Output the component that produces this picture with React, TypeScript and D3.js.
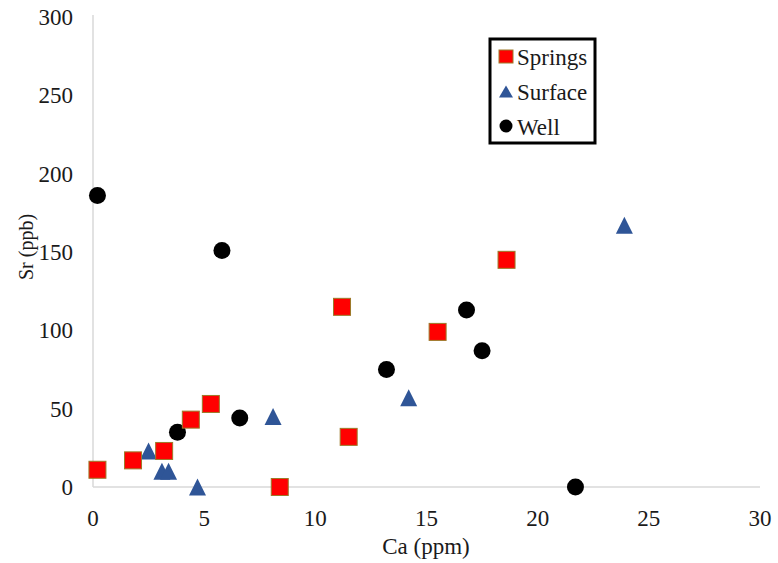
import React from "react";
import * as d3 from "d3";

const springsCa = [0.2, 1.8, 3.2, 4.4, 5.3, 8.4, 11.2, 11.5, 15.5, 18.6];
const springsSr = [11, 17, 23, 43, 53, 0, 115, 32, 99, 145];
const surfaceCa = [2.5, 3.1, 3.4, 4.7, 8.1, 14.2, 23.9];
const surfaceSr = [23, 10, 10, 0, 45, 57, 167];
const wellCa = [0.2, 5.8, 3.8, 6.6, 13.2, 16.8, 17.5, 21.7];
const wellSr = [186, 151, 35, 44, 75, 113, 87, 0];
const xTicks = [0, 5, 10, 15, 20, 25, 30];
const yTicks = [0, 50, 100, 150, 200, 250, 300];
const seriesNames = ["Springs", "Surface", "Well"];

const W = 778;
const H = 563;
const FONT = "'Liberation Serif', 'Times New Roman', 'DejaVu Serif', serif";

function triPath(w: number, h: number) {
  const p = d3.path();
  p.moveTo(0, -h / 2);
  p.lineTo(w / 2, h / 2);
  p.lineTo(-w / 2, h / 2);
  p.closePath();
  return p.toString();
}

export default function App() {
  const x = d3.scaleLinear().domain([0, 30]).range([93, 760]);
  const y = d3.scaleLinear().domain([0, 300]).range([487, 17]);
  const tri = triPath(17, 17);
  const triSmall = triPath(14, 12);
  const sq = 17;
  const blue = "#2F5597";
  const txt = { fontFamily: FONT } as React.CSSProperties;
  return (
    <svg width={W} height={H} style={{ position: "absolute", left: 0, top: 0 }}>
      <rect width={W} height={H} fill="#fff" />
      <line x1={x(0)} x2={x(30)} y1={y(0)} y2={y(0)} stroke="#d9d9d9" strokeWidth={1.5} />
      <line x1={x(0)} x2={x(0)} y1={y(300) - 2} y2={y(0)} stroke="#d9d9d9" strokeWidth={1.5} />
      {yTicks.map((t) => (
        <text key={"y" + t} x={73} y={y(t)} dy="0.35em" textAnchor="end" style={txt} fontSize={23} fill="#1a1a1a">
          {t}
        </text>
      ))}
      {xTicks.map((t) => (
        <text key={"x" + t} x={x(t)} y={518} dy="0.35em" textAnchor="middle" style={txt} fontSize={23} fill="#1a1a1a">
          {t}
        </text>
      ))}
      <text x={426} y={546} dy="0.35em" textAnchor="middle" style={txt} fontSize={23} fill="#1a1a1a">
        Ca (ppm)
      </text>
      <text transform={`translate(26,247) rotate(-90)`} dy="0.35em" textAnchor="middle" style={txt} fontSize={20} fill="#1a1a1a">
        Sr (ppb)
      </text>
      {wellCa.map((v, i) => (
        <circle key={"w" + i} cx={x(v)} cy={y(wellSr[i])} r={8.5} fill="#000" />
      ))}
      {surfaceCa.map((v, i) => (
        <path key={"s" + i} d={tri} transform={`translate(${x(v)},${y(surfaceSr[i])})`} fill={blue} />
      ))}
      {springsCa.map((v, i) => (
        <rect
          key={"p" + i}
          x={x(v) - sq / 2}
          y={y(springsSr[i]) - sq / 2}
          width={sq}
          height={sq}
          fill="#ff0000"
          stroke="#9c7a2a"
          strokeWidth={1}
        />
      ))}
      <rect x={490} y={39} width={105} height={104} fill="#fff" stroke="#000" strokeWidth={3} />
      <rect x={499} y={50} width={14} height={13} fill="#ff0000" stroke="#9c7a2a" strokeWidth={1} />
      <path d={triSmall} transform={`translate(506,91.5)`} fill={blue} />
      <circle cx={506} cy={126} r={6.5} fill="#000" />
      {seriesNames.map((n, i) => (
        <text key={n} x={517} y={57 + i * 35} dy="0.35em" style={txt} fontSize={23} fill="#1a1a1a">
          {n}
        </text>
      ))}
    </svg>
  );
}
